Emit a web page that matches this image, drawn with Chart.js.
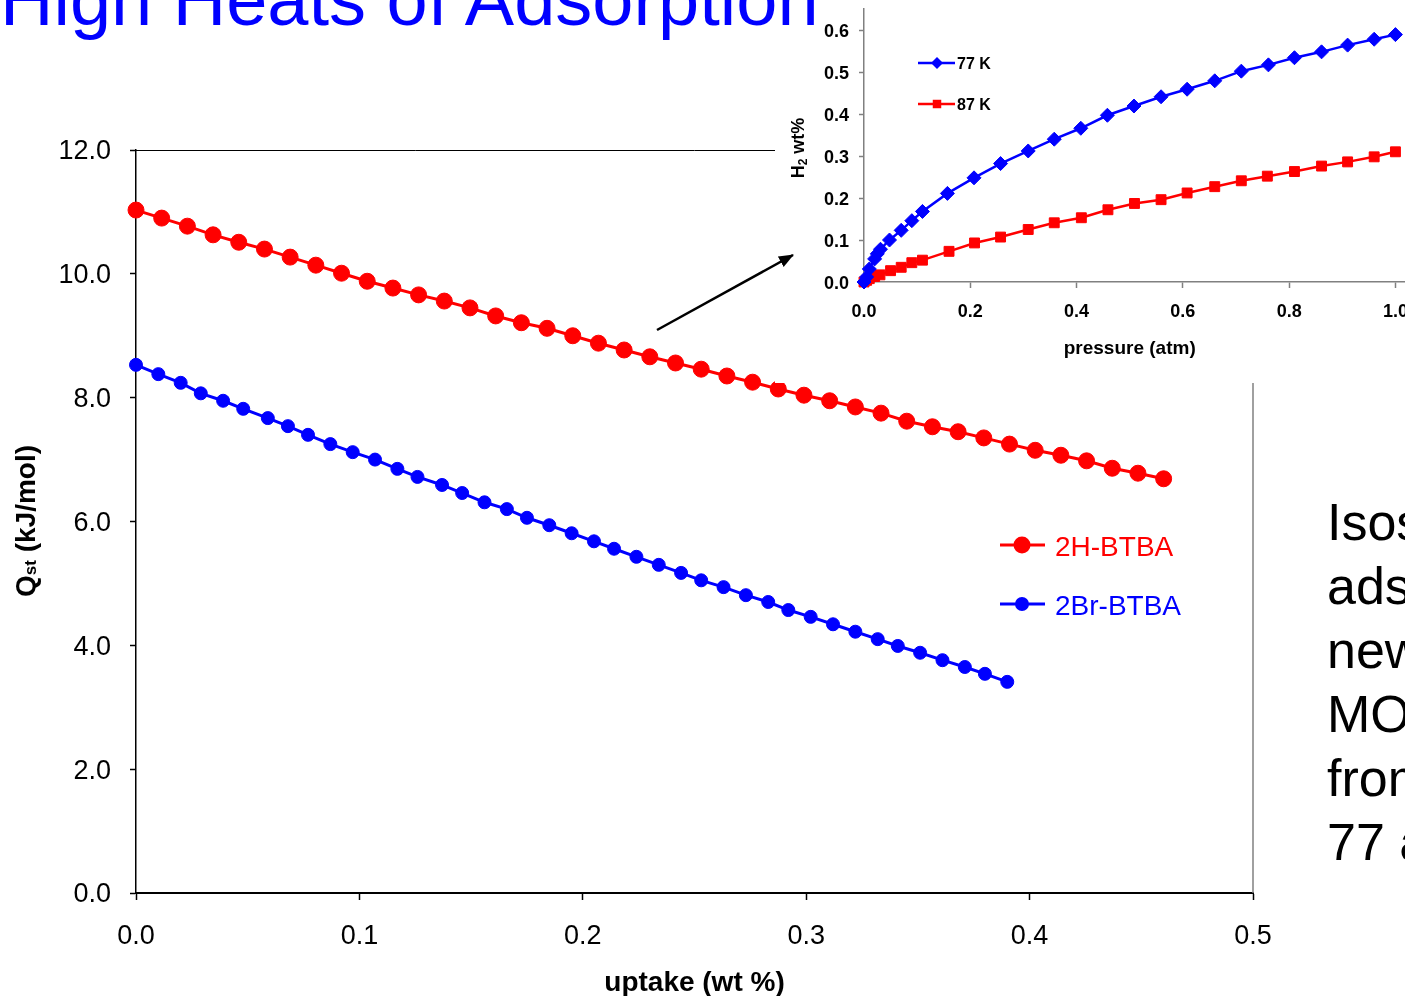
<!DOCTYPE html>
<html>
<head>
<meta charset="utf-8">
<script src="https://cdn.jsdelivr.net/npm/chart.js@4.4.1/dist/chart.umd.min.js"></script>
<style>
  body { margin: 0; }
  #page { position: relative; width: 1405px; height: 996px; overflow: hidden; background: #fff; font-family: "Liberation Sans", Arial, sans-serif; }
  #title { position: absolute; left: 0; top: -37px; font-size: 74px; line-height: 74px; color: #0000ff; white-space: nowrap; z-index: 3; }
  #mainChart { position: absolute; left: 0; top: 0; }
  #insetBox { position: absolute; left: 775px; top: 0; width: 680px; height: 383px; background: #fff; overflow: hidden; z-index: 1; }
  #insetChart { position: absolute; left: 0; top: -20px; }
  #arrow { position: absolute; left: 0; top: 0; z-index: 2; pointer-events: none; }
  #notes { position: absolute; left: 1327px; top: 490px; font-size: 52px; line-height: 64px; color: #000; white-space: nowrap; z-index: 2; }
</style>
</head>
<body>
<div id="page">
  <div id="title">High Heats of Adsorption</div>
  <canvas id="mainChart" width="1405" height="996"></canvas>
  <div id="insetBox"><canvas id="insetChart" width="680" height="403"></canvas></div>
  <svg id="arrow" width="1405" height="996">
    <defs>
      <marker id="head" markerWidth="15" markerHeight="12" refX="14" refY="6" orient="auto" markerUnits="userSpaceOnUse">
        <path d="M0,0 L15,6 L0,12 z" fill="#000"/>
      </marker>
    </defs>
    <line x1="657" y1="330" x2="793" y2="255" stroke="#000" stroke-width="2.5" marker-end="url(#head)"/>
  </svg>
  <div id="notes">
    <div>Isosteric heats of</div>
    <div>adsorption of the</div>
    <div>new</div>
    <div>MOFs calculated</div>
    <div>from isotherms at</div>
    <div>77 and 87 K</div>
  </div>
</div>

<script>
// main chart: heat of adsorption vs uptake
const redUptake = [0, 0.0115, 0.023, 0.0345, 0.046, 0.0575, 0.069, 0.0805, 0.092, 0.1035, 0.115, 0.1265, 0.138, 0.1495, 0.161, 0.1725, 0.184, 0.1955, 0.207, 0.2185, 0.23, 0.2415, 0.253, 0.2645, 0.276, 0.2875, 0.299, 0.3105, 0.322, 0.3335, 0.345, 0.3565, 0.368, 0.3795, 0.391, 0.4025, 0.414, 0.4255, 0.437, 0.4485, 0.46];
const redQst = [11.03, 10.90, 10.77, 10.63, 10.51, 10.40, 10.27, 10.14, 10.01, 9.88, 9.77, 9.66, 9.56, 9.45, 9.32, 9.21, 9.12, 9.00, 8.88, 8.77, 8.66, 8.56, 8.46, 8.35, 8.25, 8.14, 8.04, 7.95, 7.85, 7.75, 7.62, 7.53, 7.45, 7.35, 7.25, 7.15, 7.07, 6.98, 6.86, 6.78, 6.69];
const blueUptake = [0, 0.010, 0.020, 0.029, 0.039, 0.048, 0.059, 0.068, 0.077, 0.087, 0.097, 0.107, 0.117, 0.126, 0.137, 0.146, 0.156, 0.166, 0.175, 0.185, 0.195, 0.205, 0.214, 0.224, 0.234, 0.244, 0.253, 0.263, 0.273, 0.283, 0.292, 0.302, 0.312, 0.322, 0.332, 0.341, 0.351, 0.361, 0.371, 0.380, 0.390];
const blueQst = [8.53, 8.38, 8.24, 8.07, 7.95, 7.82, 7.67, 7.54, 7.40, 7.25, 7.12, 7.00, 6.85, 6.72, 6.59, 6.46, 6.31, 6.20, 6.06, 5.94, 5.81, 5.68, 5.56, 5.43, 5.30, 5.17, 5.05, 4.94, 4.81, 4.70, 4.57, 4.46, 4.34, 4.22, 4.10, 3.99, 3.88, 3.76, 3.65, 3.54, 3.41];
const mainXTicks = [0, 0.1, 0.2, 0.3, 0.4, 0.5];
const mainYTicks = [0, 2, 4, 6, 8, 10, 12];

// inset: H2 isotherms
const p77 = [0, 0.005, 0.010, 0.020, 0.025, 0.031, 0.048, 0.070, 0.090, 0.110, 0.157, 0.207, 0.257, 0.309, 0.358, 0.408, 0.458, 0.508, 0.559, 0.608, 0.660, 0.710, 0.761, 0.810, 0.861, 0.910, 0.960, 1.000];
const h2at77 = [0, 0.012, 0.031, 0.055, 0.067, 0.078, 0.100, 0.123, 0.146, 0.168, 0.211, 0.248, 0.282, 0.312, 0.340, 0.366, 0.397, 0.419, 0.441, 0.459, 0.479, 0.502, 0.517, 0.534, 0.548, 0.564, 0.578, 0.589];
const p87 = [0, 0.005, 0.010, 0.020, 0.030, 0.050, 0.070, 0.090, 0.110, 0.160, 0.208, 0.257, 0.309, 0.358, 0.409, 0.459, 0.509, 0.559, 0.608, 0.660, 0.710, 0.759, 0.810, 0.861, 0.910, 0.960, 1.000];
const h2at87 = [0, 0.004, 0.008, 0.013, 0.017, 0.027, 0.035, 0.046, 0.052, 0.073, 0.093, 0.107, 0.125, 0.141, 0.153, 0.172, 0.187, 0.196, 0.212, 0.227, 0.241, 0.252, 0.263, 0.276, 0.286, 0.298, 0.310];
const insetXTicks = [0, 0.2, 0.4, 0.6, 0.8, 1.0];
const insetYTicks = [0, 0.1, 0.2, 0.3, 0.4, 0.5, 0.6];

const FONT = '"Liberation Sans", Arial, sans-serif';

function toPoints(xs, ys) {
  const pts = [];
  for (let i = 0; i < xs.length; i++) {
    pts.push({ x: xs[i], y: ys[i] });
  }
  return pts;
}

// frame, legend and y title for the main chart
const mainDecor = {
  id: "mainDecor",
  beforeDatasetsDraw(chart) {
    const { ctx, chartArea: a } = chart;
    ctx.save();
    ctx.strokeStyle = "#000";
    ctx.lineWidth = 1;
    ctx.beginPath();
    ctx.moveTo(a.left, a.top + 0.5);
    ctx.lineTo(a.right, a.top + 0.5);
    ctx.stroke();
    ctx.strokeStyle = "#808080";
    ctx.lineWidth = 1.5;
    ctx.beginPath();
    ctx.moveTo(a.right, a.top);
    ctx.lineTo(a.right, a.bottom);
    ctx.stroke();
    ctx.restore();
  },
  afterDraw(chart) {
    const ctx = chart.ctx;
    const legendY = [545, 604];
    ctx.save();
    chart.data.datasets.forEach((ds, i) => {
      const y = legendY[i];
      ctx.strokeStyle = ds.borderColor;
      ctx.lineWidth = 3;
      ctx.beginPath();
      ctx.moveTo(1000, y);
      ctx.lineTo(1045, y);
      ctx.stroke();
      ctx.fillStyle = ds.backgroundColor;
      ctx.beginPath();
      ctx.arc(1022, y, ds.pointRadius + 0.5, 0, Math.PI * 2);
      ctx.fill();
      ctx.font = "28px " + FONT;
      ctx.textBaseline = "alphabetic";
      ctx.fillText(ds.label, 1055, y + 11);
    });

    // x title, placed a little lower than the default
    ctx.fillStyle = "#000";
    ctx.font = "bold 28px " + FONT;
    ctx.textAlign = "center";
    ctx.fillText("uptake (wt %)", (chart.chartArea.left + chart.chartArea.right) / 2, 991);
    ctx.textAlign = "left";

    // rotated y title with subscript
    ctx.translate(25, 521);
    ctx.rotate(-Math.PI / 2);
    const big = "bold 28px " + FONT;
    const small = "bold 17px " + FONT;
    ctx.font = big;
    const wQ = ctx.measureText("Q").width;
    const wRest = ctx.measureText(" (kJ/mol)").width;
    ctx.font = small;
    const wSub = ctx.measureText("st").width;
    let x = -(wQ + wSub + wRest) / 2;
    ctx.font = big;
    ctx.fillText("Q", x, 10);
    x += wQ;
    ctx.font = small;
    ctx.fillText("st", x, 11);
    x += wSub;
    ctx.font = big;
    ctx.fillText(" (kJ/mol)", x, 10);
    ctx.restore();
  }
};

new Chart(document.getElementById("mainChart"), {
  type: "scatter",
  data: {
    datasets: [
      {
        label: "2H-BTBA",
        data: toPoints(redUptake, redQst),
        showLine: true,
        borderColor: "#ff0000",
        backgroundColor: "#ff0000",
        borderWidth: 3,
        pointRadius: 8,
        pointBorderWidth: 1,
        clip: false
      },
      {
        label: "2Br-BTBA",
        data: toPoints(blueUptake, blueQst),
        showLine: true,
        borderColor: "#0000ff",
        backgroundColor: "#0000ff",
        borderWidth: 3,
        pointRadius: 6.5,
        pointBorderWidth: 1,
        clip: false
      }
    ]
  },
  options: {
    responsive: false,
    animation: false,
    layout: { padding: { left: 0, top: 150, right: 152, bottom: 0 } },
    plugins: { legend: { display: false }, tooltip: { enabled: false } },
    scales: {
      x: {
        type: "linear",
        min: 0,
        max: 0.5,
        afterBuildTicks: (axis) => { axis.ticks = mainXTicks.map((v) => ({ value: v })); },
        afterFit: (s) => { s.height = 103; },
        ticks: { color: "#000", font: { family: FONT, size: 27 }, padding: 20, callback: (v) => v.toFixed(1) },
        grid: { drawOnChartArea: false, tickLength: 7, tickColor: "#000", tickWidth: 1.5 },
        border: { color: "#000", width: 2 }
      },
      y: {
        min: 0,
        max: 12,
        afterBuildTicks: (axis) => { axis.ticks = mainYTicks.map((v) => ({ value: v })); },
        afterFit: (s) => { s.width = 136; },
        ticks: { color: "#000", font: { family: FONT, size: 27 }, padding: 19, labelOffset: 2, callback: (v) => v.toFixed(1) },
        grid: { drawOnChartArea: false, tickLength: 6, tickColor: "#000", tickWidth: 1.5 },
        border: { color: "#000", width: 1.5 }
      }
    }
  },
  plugins: [mainDecor]
});

// legend and titles for the inset
const insetDecor = {
  id: "insetDecor",
  afterDraw(chart) {
    const ctx = chart.ctx;
    const legendY = [83, 124];
    ctx.save();
    chart.data.datasets.forEach((ds, i) => {
      const y = legendY[i];
      ctx.strokeStyle = ds.borderColor;
      ctx.lineWidth = 2.5;
      ctx.beginPath();
      ctx.moveTo(143, y);
      ctx.lineTo(180, y);
      ctx.stroke();
      ctx.fillStyle = ds.backgroundColor;
      Chart.helpers.drawPoint(ctx, { pointStyle: ds.pointStyle, radius: ds.pointRadius - 1, borderWidth: 0, rotation: 0 }, 162, y);
      ctx.fillStyle = "#000";
      ctx.font = "bold 16px " + FONT;
      ctx.fillText(ds.label, 182, y + 6);
    });

    // x title centred under the 0 to 1 range
    const xs = chart.scales.x;
    ctx.font = "bold 19px " + FONT;
    ctx.textAlign = "center";
    ctx.fillText("pressure (atm)", (xs.getPixelForValue(0) + xs.getPixelForValue(1)) / 2, 374);
    ctx.textAlign = "left";

    ctx.translate(22, 168);
    ctx.rotate(-Math.PI / 2);
    const big = "bold 18px " + FONT;
    const small = "bold 12px " + FONT;
    ctx.font = big;
    const wH = ctx.measureText("H").width;
    const wRest = ctx.measureText(" wt%").width;
    ctx.font = small;
    const wSub = ctx.measureText("2").width;
    let x = -(wH + wSub + wRest) / 2;
    ctx.font = big;
    ctx.fillText("H", x, 7);
    x += wH;
    ctx.font = small;
    ctx.fillText("2", x, 10);
    x += wSub;
    ctx.font = big;
    ctx.fillText(" wt%", x, 7);
    ctx.restore();
  }
};

new Chart(document.getElementById("insetChart"), {
  type: "scatter",
  data: {
    datasets: [
      {
        label: "77 K",
        data: toPoints(p77, h2at77),
        showLine: true,
        borderColor: "#0000ff",
        backgroundColor: "#0000ff",
        borderWidth: 2.5,
        pointStyle: "rectRot",
        pointRadius: 7,
        pointBorderWidth: 1,
        clip: false
      },
      {
        label: "87 K",
        data: toPoints(p87, h2at87),
        showLine: true,
        borderColor: "#ff0000",
        backgroundColor: "#ff0000",
        borderWidth: 2.5,
        pointStyle: "rect",
        pointRadius: 7,
        pointBorderWidth: 1,
        clip: false
      }
    ]
  },
  options: {
    responsive: false,
    animation: false,
    layout: { padding: { left: 0, top: 29, right: 33, bottom: 0 } },
    plugins: { legend: { display: false }, tooltip: { enabled: false } },
    scales: {
      x: {
        type: "linear",
        min: 0,
        max: 1.05,
        afterBuildTicks: (axis) => { axis.ticks = insetXTicks.map((v) => ({ value: v })); },
        afterFit: (s) => { s.height = 101; },
        ticks: { color: "#000", font: { family: FONT, size: 18, weight: "bold" }, padding: 13, callback: (v) => v.toFixed(1) },
        grid: { drawOnChartArea: false, tickLength: 6, tickColor: "#808080", tickWidth: 1.5 },
        border: { color: "#808080", width: 1.5 }
      },
      y: {
        min: 0,
        max: 0.65,
        afterBuildTicks: (axis) => { axis.ticks = insetYTicks.map((v) => ({ value: v })); },
        afterFit: (s) => { s.width = 89; },
        ticks: { color: "#000", font: { family: FONT, size: 18, weight: "bold" }, padding: 10, labelOffset: 2, callback: (v) => v.toFixed(1) },
        grid: { drawOnChartArea: false, tickLength: 5, tickColor: "#808080", tickWidth: 1.5 },
        border: { color: "#808080", width: 1.5 }
      }
    }
  },
  plugins: [insetDecor]
});
</script>
</body>
</html>
